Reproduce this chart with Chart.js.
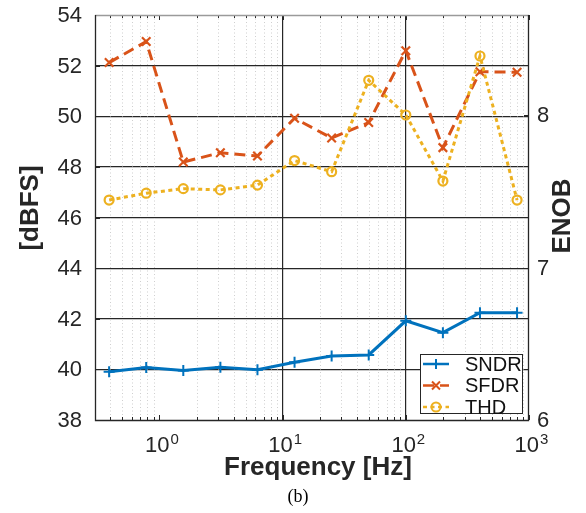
<!DOCTYPE html>
<html>
<head>
<meta charset="utf-8">
<script src="https://cdn.jsdelivr.net/npm/chart.js@4/dist/chart.umd.min.js"></script>
<style>
  html, body { margin: 0; padding: 0; background: #fff; }
  #wrap { width: 586px; height: 513px; position: relative; }
</style>
</head>
<body>
<div id="wrap"><canvas id="chart"></canvas></div>
<script>
// values
const freqHz = [0.390625, 0.78125, 1.5625, 3.125, 6.25, 12.5, 25, 50, 100, 200, 400, 800];
const sndr = [39.91, 40.07, 39.96, 40.08, 39.99, 40.28, 40.53, 40.57, 41.92, 41.45, 42.24, 42.24];
const sfdr = [52.12, 52.95, 48.19, 48.56, 48.43, 49.92, 49.14, 49.75, 52.59, 48.76, 51.76, 51.74];
const thd = [46.69, 46.96, 47.14, 47.09, 47.28, 48.25, 47.81, 51.42, 50.05, 47.44, 52.38, 46.69];

const seriesNames = ["SNDR", "SFDR", "THD"];
const xDecades = [1, 10, 100, 1000];
const xMinor = [0.4, 0.5, 0.6, 0.7, 0.8, 0.9, 2, 3, 4, 5, 6, 7, 8, 9,
  20, 30, 40, 50, 60, 70, 80, 90, 200, 300, 400, 500, 600, 700, 800, 900];
const dbTicks = [38, 40, 42, 44, 46, 48, 50, 52, 54];
const enobTicks = [6, 7, 8];

const colors = { SNDR: "#0072BD", SFDR: "#D95319", THD: "#EDB120" };
const INK = "#262626";
const FONT = '"Liberation Sans", Arial, Helvetica, sans-serif';

const pts = arr => freqHz.map((f, i) => ({ x: f, y: arr[i] }));

// marker drawing for the legend
function marker(ctx, style, x, y, color) {
  ctx.save();
  ctx.strokeStyle = color;
  ctx.lineWidth = 2;
  ctx.setLineDash([]);
  ctx.beginPath();
  if (style === "cross") {
    ctx.moveTo(x - 5, y); ctx.lineTo(x + 5, y);
    ctx.moveTo(x, y - 5); ctx.lineTo(x, y + 5);
  } else if (style === "crossRot") {
    ctx.moveTo(x - 4, y - 4); ctx.lineTo(x + 4, y + 4);
    ctx.moveTo(x + 4, y - 4); ctx.lineTo(x - 4, y + 4);
  } else {
    ctx.arc(x, y, 4.5, 0, Math.PI * 2);
  }
  ctx.stroke();
  ctx.restore();
}

const decor = {
  id: "decor",
  beforeDatasetsDraw(chart) {
    const { ctx, chartArea: a, scales } = chart;
    const xs = scales.x;
    ctx.save();
    // dotted minor grid
    ctx.strokeStyle = "#cfcfcf";
    ctx.lineWidth = 1;
    ctx.setLineDash([1, 2.5]);
    xMinor.forEach(v => {
      const px = Math.round(xs.getPixelForValue(v)) + 0.5;
      ctx.beginPath();
      ctx.moveTo(px, a.top); ctx.lineTo(px, a.bottom);
      ctx.stroke();
    });
    ctx.restore();
  },
  afterDraw(chart) {
    const { ctx, chartArea: a, scales } = chart;
    const xs = scales.x, ys = scales.y, y2 = scales.y2;
    ctx.save();

    // inward ticks
    ctx.strokeStyle = INK;
    ctx.lineWidth = 1;
    ctx.setLineDash([]);
    ctx.beginPath();
    xMinor.forEach(v => {
      const px = Math.round(xs.getPixelForValue(v)) + 0.5;
      ctx.moveTo(px, a.bottom); ctx.lineTo(px, a.bottom - 3);
      ctx.moveTo(px, a.top); ctx.lineTo(px, a.top + 3);
    });
    xDecades.forEach(v => {
      const px = Math.round(xs.getPixelForValue(v)) + 0.5;
      ctx.moveTo(px, a.bottom); ctx.lineTo(px, a.bottom - 5);
      ctx.moveTo(px, a.top); ctx.lineTo(px, a.top + 5);
    });
    dbTicks.forEach(v => {
      const py = Math.round(ys.getPixelForValue(v)) + 0.5;
      ctx.moveTo(a.left, py); ctx.lineTo(a.left + 5, py);
    });
    enobTicks.forEach(v => {
      const py = Math.round(y2.getPixelForValue(v)) + 0.5;
      ctx.moveTo(a.right, py); ctx.lineTo(a.right - 5, py);
    });
    ctx.stroke();

    // box
    ctx.lineWidth = 1.3;
    ctx.strokeStyle = "#9a9a9a";
    ctx.beginPath();
    ctx.moveTo(a.left, a.top + 0.5); ctx.lineTo(a.right, a.top + 0.5);
    ctx.stroke();
    ctx.strokeStyle = INK;
    ctx.beginPath();
    ctx.moveTo(a.left + 0.5, a.top); ctx.lineTo(a.left + 0.5, a.bottom + 0.5);
    ctx.lineTo(a.right - 0.5, a.bottom + 0.5); ctx.lineTo(a.right - 0.5, a.top);
    ctx.stroke();

    // tick labels
    ctx.fillStyle = INK;
    ctx.font = "22px " + FONT;
    ctx.textBaseline = "middle";
    ctx.textAlign = "right";
    dbTicks.forEach(v => ctx.fillText(String(v), a.left - 13, ys.getPixelForValue(v) + 1));
    ctx.textAlign = "left";
    enobTicks.forEach(v => ctx.fillText(String(v), a.right + 8, y2.getPixelForValue(v) + 1));

    ctx.textBaseline = "alphabetic";
    xDecades.forEach(v => {
      const base = "10", exp = String(Math.round(Math.log10(v)));
      ctx.font = "22px " + FONT;
      const wb = ctx.measureText(base).width;
      ctx.font = "15px " + FONT;
      const we = ctx.measureText(exp).width;
      const cx = xs.getPixelForValue(v) + 2;
      const x0 = cx - (wb + we) / 2;
      ctx.font = "22px " + FONT;
      ctx.textAlign = "left";
      ctx.fillText(base, x0, a.bottom + 32);
      ctx.font = "15px " + FONT;
      ctx.fillText(exp, x0 + wb + 1, a.bottom + 24);
    });

    // axis titles
    ctx.font = "bold 26px " + FONT;
    ctx.textAlign = "center";
    ctx.textBaseline = "middle";
    ctx.fillText("Frequency [Hz]", (a.left + a.right) / 2 + 6, a.bottom + 48);
    ctx.save();
    ctx.translate(31, 208);
    ctx.rotate(-Math.PI / 2);
    ctx.fillText("[dBFS]", 0, 0);
    ctx.restore();
    ctx.save();
    ctx.translate(563, 216);
    ctx.rotate(-Math.PI / 2);
    ctx.fillText("ENOB", 0, 0);
    ctx.restore();

    // caption
    ctx.fillStyle = "#000";
    ctx.font = '18px "Liberation Serif", "Times New Roman", serif';
    ctx.fillText("(b)", 298, 497);

    // legend
    const bw = 102, bh = 59;
    const bx = a.right - 7 - bw, by = a.bottom - 7 - bh;
    ctx.fillStyle = "#fff";
    ctx.fillRect(bx, by, bw, bh);
    ctx.strokeStyle = INK;
    ctx.lineWidth = 1;
    ctx.strokeRect(bx + 0.5, by + 0.5, bw, bh);
    chart.data.datasets.forEach((ds, i) => {
      const ly = by + 10 + i * 21.5;
      ctx.strokeStyle = ds.borderColor;
      ctx.lineWidth = 2.5;
      ctx.setLineDash(ds.borderDash || []);
      ctx.beginPath();
      ctx.moveTo(bx + 3, ly); ctx.lineTo(bx + 29, ly);
      ctx.stroke();
      marker(ctx, ds.pointStyle, bx + 16, ly, ds.borderColor);
      ctx.fillStyle = "#111";
      ctx.font = "20px " + FONT;
      ctx.textAlign = "left";
      ctx.textBaseline = "middle";
      ctx.fillText(ds.label, bx + 45, ly + 1);
    });
    ctx.restore();
  }
};

new Chart(document.getElementById("chart"), {
  type: "line",
  data: {
    datasets: [
      {
        label: seriesNames[0], data: pts(sndr), order: 2,
        borderColor: colors.SNDR, borderWidth: 3,
        pointStyle: "cross", pointRadius: 5.5, pointBorderWidth: 2,
        pointBorderColor: colors.SNDR, pointBackgroundColor: "rgba(0,0,0,0)"
      },
      {
        label: seriesNames[1], data: pts(sfdr), order: 1,
        borderColor: colors.SFDR, borderWidth: 3, borderDash: [11, 6],
        pointStyle: "crossRot", pointRadius: 6, pointBorderWidth: 2.2,
        pointBorderColor: colors.SFDR, pointBackgroundColor: "rgba(0,0,0,0)"
      },
      {
        label: seriesNames[2], data: pts(thd), order: 0,
        borderColor: colors.THD, borderWidth: 3, borderDash: [4, 3.5],
        pointStyle: "circle", pointRadius: 4.5, pointBorderWidth: 2.2,
        pointBorderColor: colors.THD, pointBackgroundColor: "rgba(0,0,0,0)"
      }
    ]
  },
  options: {
    responsive: true,
    maintainAspectRatio: false,
    animation: false,
    layout: { padding: { left: 95, right: 57, top: 15, bottom: 93 } },
    elements: { line: { tension: 0, borderCapStyle: "butt" } },
    plugins: { legend: { display: false }, tooltip: { enabled: false } },
    scales: {
      x: {
        type: "logarithmic", min: 0.3, max: 1000,
        afterBuildTicks: s => { s.ticks = xDecades.map(v => ({ value: v })); },
        afterFit: s => { s.height = 0; },
        ticks: { display: false },
        border: { display: false },
        grid: {
          drawTicks: false, lineWidth: 1.2,
          color: c => (c.tick && (c.tick.value === 10 || c.tick.value === 100)) ? INK : "rgba(0,0,0,0)"
        }
      },
      y: {
        min: 38, max: 54,
        afterBuildTicks: s => { s.ticks = dbTicks.map(v => ({ value: v })); },
        afterFit: s => { s.width = 0; },
        ticks: { display: false },
        border: { display: false },
        grid: {
          drawTicks: false, lineWidth: 1.2,
          color: c => (c.tick && c.tick.value > 38 && c.tick.value < 54) ? INK : "rgba(0,0,0,0)"
        }
      },
      y2: {
        position: "right",
        min: 6, max: 6 + 16 / 6.02,
        afterBuildTicks: s => { s.ticks = enobTicks.map(v => ({ value: v })); },
        afterFit: s => { s.width = 0; },
        ticks: { display: false },
        border: { display: false },
        grid: { drawOnChartArea: false, drawTicks: false }
      }
    }
  },
  plugins: [decor]
});
</script>
</body>
</html>
